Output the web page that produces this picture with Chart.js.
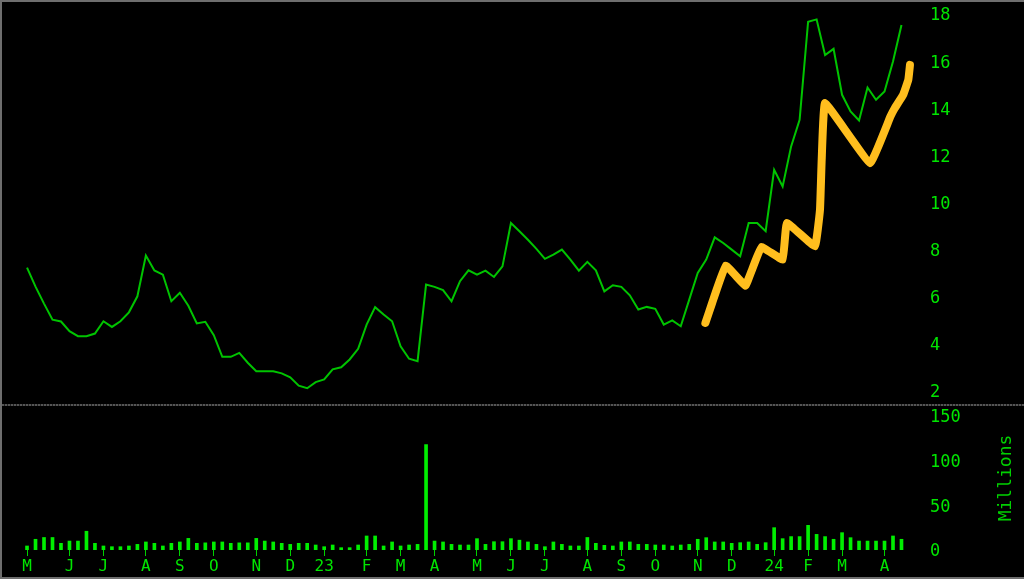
<!DOCTYPE html>
<html>
<head>
<meta charset="utf-8">
<script src="https://cdn.jsdelivr.net/npm/chart.js@4/dist/chart.umd.min.js"></script>
<style>
  html, body { margin: 0; padding: 0; background: #000; overflow: hidden; }
  #wrap { position: relative; width: 1024px; height: 579px; background: #000; }
  #frame {
    position: absolute; left: 0; top: 0; width: 1024px; height: 579px;
    box-sizing: border-box; pointer-events: none; z-index: 3;
    border-top: 2px solid #6e6e6e; border-left: 2px solid #6e6e6e; border-bottom: 2px solid #6e6e6e;
  }
  #sep {
    position: absolute; left: 2px; top: 404px; width: 1022px; height: 2px; z-index: 2;
    background: repeating-linear-gradient(to right, #555 0 2px, #222 2px 3px);
  }
  #priceBox { position: absolute; left: 0; top: 2px; width: 1024px; height: 402px; }
  #volBox { position: absolute; left: 0; top: 406px; width: 1024px; height: 171px; }
</style>
</head>
<body>
<div id="wrap">
  <div id="priceBox"><canvas id="priceChart"></canvas></div>
  <div id="sep"></div>
  <div id="volBox"><canvas id="volChart"></canvas></div>
  <div id="frame"></div>
</div>
<script>
// weekly bars, week starting Sunday
const FIRST_WEEK = '2022-05-01';

const closes = [
  7.24, 6.43, 5.71, 5.03, 4.95, 4.54, 4.33, 4.33, 4.44, 4.96,
  4.72, 4.96, 5.34, 6.02, 7.75, 7.12, 6.94, 5.81, 6.17, 5.62,
  4.87, 4.94, 4.37, 3.45, 3.45, 3.62, 3.20, 2.84, 2.84, 2.84,
  2.75, 2.58, 2.23, 2.12, 2.38, 2.49, 2.92, 3.01, 3.34, 3.79,
  4.82, 5.56, 5.25, 4.96, 3.90, 3.37, 3.27, 6.52, 6.42, 6.28,
  5.81, 6.66, 7.12, 6.94, 7.11, 6.84, 7.29, 9.13, 8.78, 8.42,
  8.03, 7.61, 7.79, 8.00, 7.58, 7.11, 7.48, 7.12, 6.23, 6.49,
  6.42, 6.06, 5.46, 5.57, 5.49, 4.82, 5.00, 4.75, 5.88, 7.01,
  7.58, 8.52, 8.28, 8.00, 7.72, 9.13, 9.13, 8.78, 11.39, 10.68,
  12.38, 13.51, 17.67, 17.77, 16.26, 16.52, 14.57, 13.86, 13.48, 14.88,
  14.36, 14.71, 15.98, 17.53
];

// millions of shares
const volumes = [
  4.5, 12, 14, 14, 7.5, 10, 10, 21, 7.5, 4.5,
  3.7, 3.7, 4.5, 6.3, 9, 7.5, 4.5, 7.5, 9, 13,
  7.5, 8, 9, 9, 7.5, 8, 8, 13, 10, 9,
  7.5, 6.3, 7.5, 7.5, 5.6, 3.7, 5.6, 2.6, 2.6, 5.6,
  15.7, 15.7, 4.5, 9, 4.5, 5.6, 6.3, 118, 10, 9,
  6.3, 5.6, 5.6, 12.7, 6.3, 9.3, 9.3, 12.7, 11, 9,
  6.3, 3.7, 9, 6.3, 4.5, 4.5, 14, 7.5, 5.2, 4.5,
  9, 9, 6.3, 6.3, 5.6, 5.6, 4.5, 5.6, 6.3, 12,
  13.8, 9, 9, 7.5, 8.2, 9, 6.3, 8.2, 25, 12.7,
  15, 15, 27.6, 17.5, 15, 12, 19.4, 13.8, 10, 10,
  10, 10, 15.7, 12
];

// hand drawn trend stroke (week position, price)
const trendWeeks = [79.9, 80.7, 82.3, 84.6, 85.4, 86.5, 89.0, 89.5, 92.8, 93.4, 93.6, 94.0, 99.3, 101.7, 102.2, 103.2, 103.8, 104.0];
const trendValues = [4.89, 5.74, 7.32, 6.47, 7.15, 8.11, 7.58, 9.13, 8.14, 9.69, 11.81, 14.22, 11.67, 13.65, 14.0, 14.57, 15.2, 15.84];

const priceTicks = [2, 4, 6, 8, 10, 12, 14, 16, 18];
const volumeTicks = [0, 50, 100, 150];
const MONTH_LETTERS = ['J', 'F', 'M', 'A', 'M', 'J', 'J', 'A', 'S', 'O', 'N', 'D'];

const GREEN_TEXT = '#00e600';
const MONO = 'DejaVu Sans Mono';

function weekDate(i) {
  const d = new Date(FIRST_WEEK + 'T00:00:00Z');
  d.setUTCDate(d.getUTCDate() + 7 * i);
  return d;
}

// tick at the first week of each month, January shows the year
function monthTicks() {
  const ticks = [];
  let prevMonth = -1;
  closes.forEach((_, i) => {
    const d = weekDate(i);
    const m = d.getUTCMonth();
    if (m !== prevMonth) {
      const label = m === 0 ? String(d.getUTCFullYear() % 100).padStart(2, '0') : MONTH_LETTERS[m];
      ticks.push({ value: i, label });
    }
    prevMonth = m;
  });
  return ticks;
}

const xTicks = monthTicks();
const X_MIN = -2.83;
const X_MAX = 105.18;

function fixRightAxis(scale) {
  scale.width = 104;
  scale.paddingTop = 0;
  scale.paddingBottom = 0;
}

new Chart(document.getElementById('priceChart'), {
  type: 'line',
  data: {
    datasets: [
      {
        data: closes.map((v, i) => ({ x: i, y: v })),
        borderColor: '#00c400',
        borderWidth: 2,
        pointRadius: 0,
        tension: 0
      },
      {
        data: trendWeeks.map((w, i) => ({ x: w, y: trendValues[i] })),
        borderColor: '#ffbe1e',
        borderWidth: 8,
        borderCapStyle: 'round',
        borderJoinStyle: 'round',
        pointRadius: 0,
        tension: 0.08
      }
    ]
  },
  options: {
    responsive: true,
    maintainAspectRatio: false,
    animation: false,
    layout: { padding: { left: 3, right: 0, top: 0, bottom: 0 } },
    plugins: { legend: { display: false }, tooltip: { enabled: false } },
    scales: {
      x: { type: 'linear', display: false, min: X_MIN, max: X_MAX },
      y: {
        position: 'right',
        min: 1.45,
        max: 18.508,
        grid: { display: false, drawTicks: false },
        border: { display: false },
        afterBuildTicks: (axis) => { axis.ticks = priceTicks.map(v => ({ value: v })); },
        afterFit: fixRightAxis,
        ticks: { color: GREEN_TEXT, padding: 10, labelOffset: 2, font: { family: MONO, size: 17 } }
      }
    }
  }
});

const millionsTitle = {
  id: 'millionsTitle',
  afterDraw(chart) {
    const ctx = chart.ctx;
    ctx.save();
    ctx.translate(1006, 72);
    ctx.rotate(-Math.PI / 2);
    ctx.fillStyle = '#00d000';
    ctx.font = '18px "' + MONO + '"';
    ctx.textAlign = 'center';
    ctx.textBaseline = 'middle';
    ctx.fillText('Millions', 0, 0);
    ctx.restore();
  }
};

new Chart(document.getElementById('volChart'), {
  type: 'bar',
  data: {
    datasets: [{
      data: volumes.map((v, i) => ({ x: i, y: v })),
      backgroundColor: '#00ee00',
      barThickness: 3
    }]
  },
  options: {
    responsive: true,
    maintainAspectRatio: false,
    animation: false,
    layout: { padding: { left: 3, right: 0, top: 0, bottom: 0 } },
    plugins: { legend: { display: false }, tooltip: { enabled: false } },
    scales: {
      x: {
        type: 'linear',
        min: X_MIN,
        max: X_MAX,
        offset: false,
        grid: { offset: false, drawOnChartArea: false, drawTicks: true, tickLength: 6, color: '#00d000' },
        border: { display: false },
        afterBuildTicks: (axis) => { axis.ticks = xTicks.map(t => ({ value: t.value })); },
        afterFit: (scale) => { scale.height = 27; scale.paddingLeft = 0; scale.paddingRight = 0; },
        ticks: {
          color: GREEN_TEXT,
          padding: 1,
          autoSkip: false,
          maxRotation: 0,
          font: { family: MONO, size: 16 },
          callback: (value) => {
            const t = xTicks.find(k => k.value === value);
            return t ? t.label : '';
          }
        }
      },
      y: {
        position: 'right',
        min: 0,
        max: 161.2,
        grid: { display: false, drawTicks: false },
        border: { display: false },
        afterBuildTicks: (axis) => { axis.ticks = volumeTicks.map(v => ({ value: v })); },
        afterFit: fixRightAxis,
        ticks: { color: GREEN_TEXT, padding: 10, labelOffset: 2, font: { family: MONO, size: 17 } }
      }
    }
  },
  plugins: [millionsTitle]
});
</script>
</body>
</html>
